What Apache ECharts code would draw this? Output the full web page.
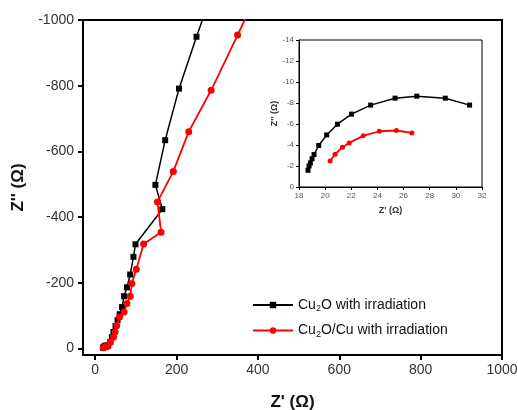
<!DOCTYPE html>
<html><head><meta charset="utf-8">
<script src="https://cdn.jsdelivr.net/npm/echarts@6/dist/echarts.min.js"></script>
<style>html,body{margin:0;padding:0;background:#fff}#c{width:518px;height:410px}</style>
</head><body><div id="c"></div>
<script>
// Main plot data [Z', Z'']
const cu2oMain = [[19,-2],[21,-5],[24,-8],[28,-9],[32,-9],[37,-20],[41,-34],[45,-50],[50,-68],[55,-86],[60,-104],[66,-126],[71,-159],[78,-186],[86,-225],[94,-279],[99,-317],[165,-424],[148,-498],[172,-634],[206,-791],[249,-949],[272,-1030]];
const cu2oCuMain = [[20,-2],[23,-4],[26,-5],[30,-6],[37,-19],[45,-35],[49,-50],[53,-70],[60,-96],[71,-111],[78,-137],[86,-159],[90,-198],[101,-241],[119,-318],[162,-354],[153,-446],[192,-539],[230,-660],[285,-786],[350,-954],[390,-1060]];
// Inset data
const cu2oInset = [[18.69,-1.59],[18.77,-2.0],[18.87,-2.29],[19.0,-2.70],[19.15,-3.09],[19.51,-3.95],[20.12,-4.96],[20.94,-5.98],[22.02,-6.94],[23.48,-7.80],[25.35,-8.46],[27.01,-8.65],[29.19,-8.46],[31.05,-7.80]];
const cu2oCuInset = [[20.38,-2.48],[20.76,-3.12],[21.33,-3.79],[21.84,-4.20],[22.91,-4.87],[24.14,-5.31],[25.45,-5.38],[26.63,-5.15]];
const mainXTicks = [0,200,400,600,800,1000];
const mainYTicks = [-1000,-800,-600,-400,-200,0];
const seriesNames = ['Cu2O with irradiation','Cu2O/Cu with irradiation'];

const chart = echarts.init(document.getElementById('c'), null, {renderer:'canvas'});
const lblFont = 'Liberation Sans, Arial, sans-serif';
const plain = v => String(v);
chart.setOption({
  animation:false,
  grid:[
    {left:83, top:20, width:419, height:335, show:true, borderColor:'#000', borderWidth:2, z:0, containLabel:false, outerBoundsMode:'none'},
    {left:299, top:40, width:183, height:147, show:true, borderColor:'#000', borderWidth:1, z:5, containLabel:false, outerBoundsMode:'none'}
  ],
  legend:{
    data:seriesNames, orient:'vertical', left:247, top:293, itemWidth:40, itemHeight:8, itemGap:10,
    textStyle:{fontFamily:lblFont, fontSize:14, color:'#111',
      rich:{a:{fontFamily:lblFont,fontSize:14,color:'#111'}, s:{fontFamily:lblFont,fontSize:9,color:'#111',padding:[8,0,0,0]}}},
    formatter:function(n){
      if(n===seriesNames[0]) return '{a|Cu}{s|2}{a|O with irradiation}';
      return '{a|Cu}{s|2}{a|O/Cu with irradiation}';
    }
  },
  xAxis:[
    {gridIndex:0, type:'value', min:-30, max:1000,
     name:"Z' (Ω)", nameLocation:'middle', nameGap:39,
     nameTextStyle:{fontFamily:lblFont, fontWeight:'bold', fontSize:17, color:'#111'},
     axisLine:{show:true, onZero:false, lineStyle:{color:'#000', width:2}},
     axisTick:{show:true, length:5, lineStyle:{color:'#000', width:2}, customValues:mainXTicks},
     axisLabel:{fontFamily:lblFont, fontSize:14, color:'#333', margin:8, customValues:mainXTicks, formatter:plain},
     splitLine:{show:false}},
    {gridIndex:1, type:'value', min:18, max:32, interval:2,
     name:"Z' (Ω)", nameLocation:'middle', nameGap:19,
     nameTextStyle:{fontFamily:lblFont, fontWeight:'bold', fontSize:9, color:'#333'},
     axisLine:{show:true, onZero:false, lineStyle:{color:'#000', width:1}},
     axisTick:{show:true, length:3, lineStyle:{color:'#000'}},
     axisLabel:{fontFamily:lblFont, fontSize:8, color:'#555', margin:5},
     splitLine:{show:false}}
  ],
  yAxis:[
    {gridIndex:0, type:'value', min:-1000, max:20, inverse:true,
     name:"Z'' (Ω)", nameLocation:'middle', nameGap:52, nameRotate:90,
     nameTextStyle:{fontFamily:lblFont, fontWeight:'bold', fontSize:17, color:'#111'},
     axisLine:{show:true, onZero:false, lineStyle:{color:'#000', width:2}},
     axisTick:{show:true, length:5, lineStyle:{color:'#000', width:2}, customValues:mainYTicks},
     axisLabel:{fontFamily:lblFont, fontSize:14, color:'#333', margin:9, customValues:mainYTicks, formatter:plain},
     splitLine:{show:false}},
    {gridIndex:1, type:'value', min:-14, max:0, interval:2, inverse:true,
     name:"Z'' (Ω)", nameLocation:'middle', nameGap:17, nameRotate:90,
     nameTextStyle:{fontFamily:lblFont, fontWeight:'bold', fontSize:9, color:'#333'},
     axisLine:{show:true, onZero:false, lineStyle:{color:'#000', width:1}},
     axisTick:{show:true, length:3, lineStyle:{color:'#000'}},
     axisLabel:{fontFamily:lblFont, fontSize:8, color:'#555', margin:5},
     splitLine:{show:false}}
  ],
  series:[
    {name:seriesNames[0], type:'line', xAxisIndex:0, yAxisIndex:0, data:cu2oMain,
     symbol:'rect', symbolSize:6, itemStyle:{color:'#000'}, lineStyle:{color:'#000', width:1.5}, clip:true, z:3},
    {name:seriesNames[1], type:'line', xAxisIndex:0, yAxisIndex:0, data:cu2oCuMain,
     symbol:'circle', symbolSize:7, itemStyle:{color:'#ff0000'}, lineStyle:{color:'#ff0000', width:1.8}, clip:true, z:4},
    {name:'inset1', type:'line', xAxisIndex:1, yAxisIndex:1, data:cu2oInset,
     symbol:'rect', symbolSize:5, itemStyle:{color:'#000'}, lineStyle:{color:'#000', width:1.5}, z:6},
    {name:'inset2', type:'line', xAxisIndex:1, yAxisIndex:1, data:cu2oCuInset,
     symbol:'circle', symbolSize:5, itemStyle:{color:'#ff0000'}, lineStyle:{color:'#ff0000', width:1.8}, z:6}
  ]
});
</script></body></html>
